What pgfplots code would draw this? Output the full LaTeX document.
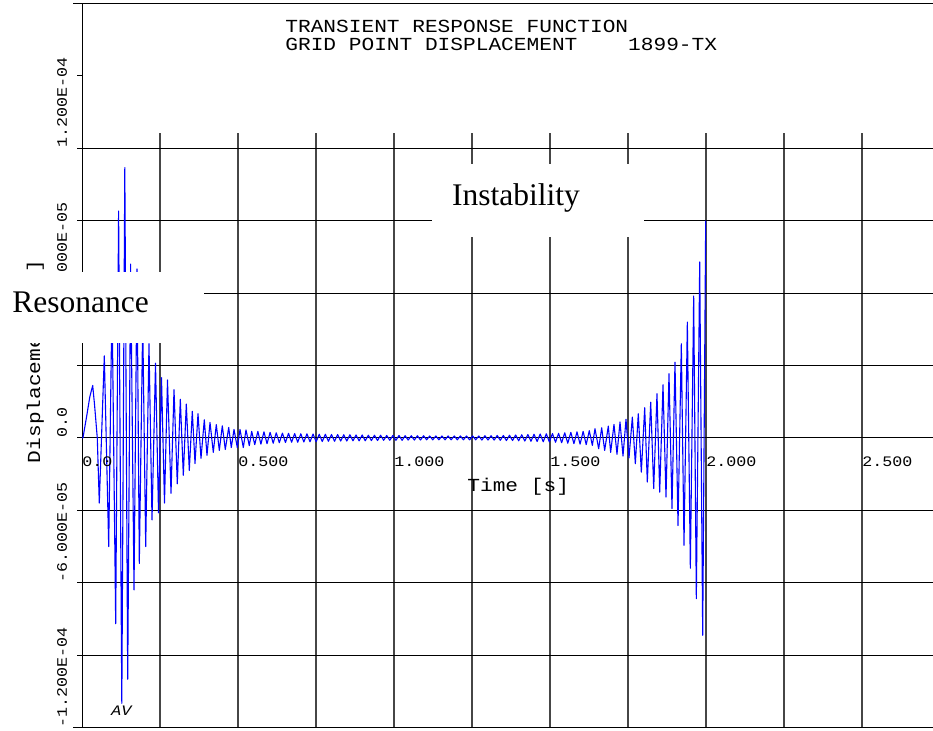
\documentclass[border=0pt]{standalone}
\usepackage{fontspec}
\setmainfont{Liberation Serif}
\newfontfamily\plotfont[FakeStretch=1.15]{Liberation Mono}
\newfontfamily\plotslant[FakeStretch=1.15,FakeSlant=0.25]{Liberation Mono}
\usepackage{pgfplots}
\pgfplotsset{compat=1.18}

\newcommand{\tickfont}{\plotfont\fontsize{7.25}{8}\selectfont}
\newcommand{\labfont}{\plotfont\fontsize{9.2}{11}\selectfont}

\begin{document}
\begin{tikzpicture}
\begin{axis}[
    scale only axis, width=425.5pt, height=362pt,
    xmin=0, xmax=2.7276, ymin=-120, ymax=180,
    axis line style={draw=none}, ticks=none,
    clip=false,
]
% grid (y in 1E-06 m)
\pgfplotsinvokeforeach{0.25,0.5,0.75,1,1.25,1.5,1.75,2,2.25,2.5}{
  \draw[gray!55!black, line width=0.55pt] (axis cs:#1,-120) -- (axis cs:#1,126.2);
}
\pgfplotsinvokeforeach{-90,-60,-30,0,30,60,90,120}{
  \draw[black, line width=0.5pt] (axis cs:-0.016,#1) -- (axis cs:2.7276,#1);
}
\draw[black, line width=0.5pt] (axis cs:-0.0288,180) -- (axis cs:2.7276,180);
\draw[black, line width=0.5pt] (axis cs:-0.0288,-120) -- (axis cs:2.7276,-120);
\draw[black, line width=0.5pt] (axis cs:-0.016,150) -- (axis cs:0,150);
\draw[black, line width=0.5pt] (axis cs:0,-120) -- (axis cs:0,180);

\addplot[blue, line width=0.55pt, line join=round] coordinates {
(0,0) (0.003,0) (0.015,9) (0.025,17) (0.0343,21.7) (0.040,14) (0.049,0)
(0.0554,-27) (0.0715,34) (0.0856,-45) (0.0962,58) (0.1080,-77) (0.1173,94)
(0.1276,-110) (0.1372,112) (0.1465,-100) (0.1558,72) (0.1667,-63) (0.1763,70)
(0.1837,-52) (0.1946,48) (0.2042,-45) (0.2147,39) (0.2244,-34) (0.2356,31)
(0.2452,-31) (0.2548,25) (0.2644,-27) (0.2740,24) (0.2853,-23) (0.2949,20)
(0.3054,-19) (0.3151,16) (0.3247,-15.5) (0.3343,14) (0.3439,-13.5) (0.3535,11)
(0.3622,-10.6) (0.3718,10) (0.3814,-8.5) (0.3920,7.5) (0.4006,-7.2) (0.4103,6.4)
(0.4208,-6) (0.4304,5.5) (0.4401,-5.2) (0.4497,5) (0.4593,-4.8) (0.4702,4.3)
(0.4785,-4) (0.4872,3.5) (0.4978,-4) (0.5064,3.5) (0.5170,-4) (0.5256,3.3)
(0.5362,-3.2) (0.5439,2.7)
(0.5537,-2.8) (0.5636,2.7) (0.5734,-2.6) (0.5832,2.5) (0.5931,-2.4) (0.6029,2.3)
(0.6128,-2.2) (0.6226,2.1) (0.6324,-2.0) (0.6423,2.0) (0.6521,-1.9) (0.6619,1.9)
(0.6718,-1.8) (0.6816,1.8) (0.6914,-1.8) (0.7013,1.7) (0.7111,-1.7) (0.7209,1.7)
(0.7308,-1.6) (0.7406,1.6) (0.7505,-1.6) (0.7603,1.5) (0.7701,-1.5) (0.7800,1.5)
(0.7898,-1.4) (0.7996,1.4) (0.8095,-1.4) (0.8193,1.4) (0.8291,-1.3) (0.8390,1.3)
(0.8488,-1.3) (0.8587,1.3) (0.8685,-1.2) (0.8783,1.2) (0.8882,-1.2) (0.8980,1.2)
(0.9078,-1.2) (0.9177,1.1) (0.9275,-1.1) (0.9373,1.1) (0.9472,-1.1) (0.9570,1.1)
(0.9668,-1.0) (0.9767,1.0) (0.9865,-1.0) (0.9964,1.0) (1.0062,-1.0) (1.0160,1.0)
(1.0259,-1.0) (1.0357,0.9) (1.0455,-0.9) (1.0554,0.9) (1.0652,-0.9) (1.0750,0.9)
(1.0849,-0.9) (1.0947,0.9) (1.1046,-0.8) (1.1144,0.8) (1.1242,-0.8) (1.1341,0.8)
(1.1439,-0.8) (1.1537,0.8) (1.1636,-0.8) (1.1734,0.8) (1.1832,-0.8) (1.1931,0.8)
(1.2029,-0.8) (1.2127,0.8) (1.2226,-0.8) (1.2324,0.8) (1.2423,-0.8) (1.2521,0.8)
(1.2619,-0.8) (1.2718,0.8) (1.2816,-0.9) (1.2914,0.9) (1.3013,-0.9) (1.3111,0.9)
(1.3209,-0.9) (1.3308,1.0) (1.3406,-1.0) (1.3505,1.0) (1.3603,-1.1) (1.3701,1.1)
(1.3800,-1.1) (1.3898,1.2) (1.3996,-1.2) (1.4095,1.3) (1.4193,-1.3) (1.4291,1.4)
(1.4390,-1.4) (1.4488,1.5) (1.4587,-1.5) (1.4685,1.6) (1.4783,-1.6) (1.4882,1.7)
(1.4980,-1.7) (1.5078,1.8) (1.5177,-1.8) (1.5275,1.9) (1.5373,-2.0) (1.5472,2.1)
(1.5570,-2.2) (1.5668,2.3) (1.5767,-2.4) (1.5865,2.5) (1.5964,-2.6) (1.6062,2.7)
(1.6160,-2.8) (1.6259,3.0)
(1.6357,-3.1) (1.6442,3.8) (1.6560,-4.5) (1.6656,4.2) (1.6752,-5.2) (1.6869,4.9)
(1.6944,-6.0) (1.7051,5.6) (1.7147,-6.8) (1.7244,6.6) (1.7340,-7.5) (1.7436,7.7)
(1.7532,-8.3) (1.7639,8.6) (1.7735,-10.7) (1.7830,10) (1.7927,-14.2) (1.8035,12.5)
(1.8119,-18.3) (1.8228,14.8) (1.8324,-21) (1.8429,18.3) (1.8516,-22.5) (1.8622,22)
(1.8718,-24.5) (1.8814,26.6) (1.8910,-29.3) (1.9006,31.4) (1.9103,-36.3) (1.9209,39)
(1.9295,-44.5) (1.9402,48) (1.9498,-54) (1.9605,58.8) (1.9690,-66.6) (1.9798,72.9)
(1.9894,-81.8) (1.9990,90)
};

% tick labels
\node[anchor=base west, inner sep=0pt, font=\tickfont] at (axis cs:0,-11.8) {0.0};
\node[anchor=base west, inner sep=0pt, font=\tickfont] at (axis cs:0.5,-11.8) {0.500};
\node[anchor=base west, inner sep=0pt, font=\tickfont] at (axis cs:1,-11.8) {1.000};
\node[anchor=base west, inner sep=0pt, font=\tickfont] at (axis cs:1.5,-11.8) {1.500};
\node[anchor=base west, inner sep=0pt, font=\tickfont] at (axis cs:2,-11.8) {2.000};
\node[anchor=base west, inner sep=0pt, font=\tickfont] at (axis cs:2.5,-11.8) {2.500};
\node[rotate=90, anchor=base west, inner sep=0pt, font=\tickfont] at (axis cs:-0.0481,120) {1.200E-04};
\node[rotate=90, anchor=base west, inner sep=0pt, font=\tickfont] at (axis cs:-0.0481,60) {6.000E-05};
\node[rotate=90, anchor=base west, inner sep=0pt, font=\tickfont] at (axis cs:-0.0481,0) {0.0};
\node[rotate=90, anchor=base west, inner sep=0pt, font=\tickfont] at (axis cs:-0.0481,-60) {-6.000E-05};
\node[rotate=90, anchor=base west, inner sep=0pt, font=\tickfont] at (axis cs:-0.0481,-120) {-1.200E-04};

% axis labels and title
\node[anchor=base west, inner sep=0pt, font=\labfont] at (axis cs:1.234,-22.2) {Time [s]};
\node[rotate=90, anchor=base west, inner sep=0pt, font=\labfont] at (axis cs:-0.1346,-10.6) {Displacement [m]};
\node[anchor=base west, inner sep=0pt, font=\labfont] at (axis cs:0.6506,167.8) {TRANSIENT RESPONSE FUNCTION};
\node[anchor=base west, inner sep=0pt, font=\labfont] at (axis cs:0.6506,160.6) {GRID POINT DISPLACEMENT\ \ \ \ 1899-TX};
\node[anchor=base west, inner sep=0pt, font=\plotslant\fontsize{7.25}{8}\selectfont] at (axis cs:0.0897,-115) {AV};

% annotations
\fill[white] (axis cs:1.1218,83.1) rectangle (axis cs:1.8013,113.3);
\node[anchor=base, inner sep=0pt, font=\fontsize{15.75}{18}\selectfont] at (axis cs:1.391,96.4) {Instability};
\fill[white] (axis cs:-0.2628,39.2) rectangle (axis cs:0.391,68.6);
\node[anchor=base west, inner sep=0pt, font=\fontsize{15.75}{18}\selectfont] at (axis cs:-0.2244,52.0) {Resonance};
\end{axis}
\pgfresetboundingbox
\path[use as bounding box] ([xshift=-41pt,yshift=-1.5pt]current axis.south west) rectangle ([yshift=1.75pt]current axis.north east);
\end{tikzpicture}
\end{document}
